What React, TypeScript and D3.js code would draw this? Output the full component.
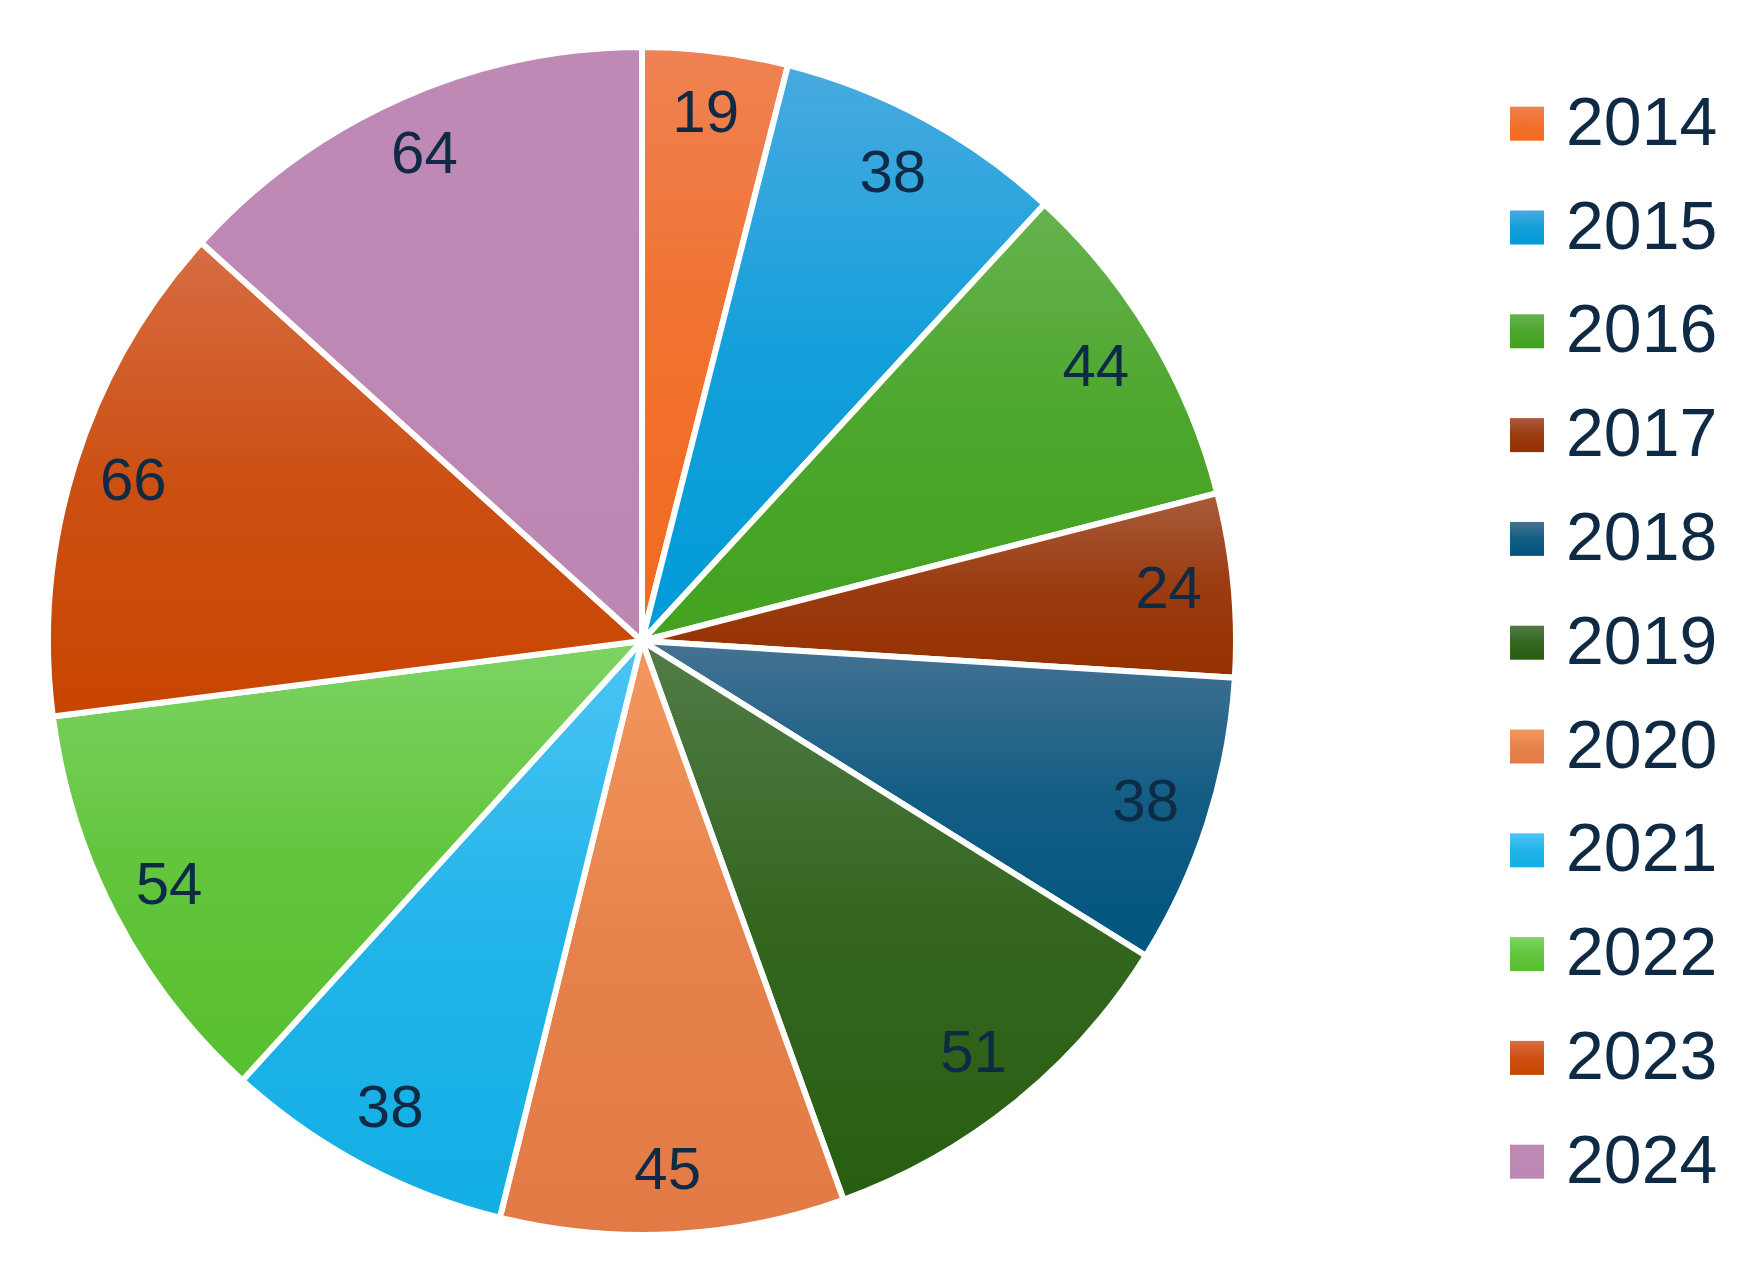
import React from "react";
import * as d3 from "d3";

const years = ["2014", "2015", "2016", "2017", "2018", "2019", "2020", "2021", "2022", "2023", "2024"];
const values = [19, 38, 44, 24, 38, 51, 45, 38, 54, 66, 64];

const topColors = ["#ef8253", "#48aae0", "#67b24e", "#a85c3c", "#457292", "#527c47", "#f3975f", "#4cc4f5", "#7dd364", "#d86c44", "#be8ab5"];
const bottomColors = ["#f26a1f", "#009bd8", "#42a21f", "#963000", "#00557f", "#285e11", "#e27a45", "#12aee4", "#58c02e", "#c84500", "#bc87b2"];

const W = 1745;
const H = 1276;
const CX = 642;
const CY = 641;
const R = 594;
const LABEL_R = 531;
const LABEL_DX = -2;
const LABEL_DY = -3;
const TEXT_COLOR = "#0f2a45";
const FONT = "'Liberation Sans', Arial, sans-serif";

export default function App() {
  const data = years.map((y, i) => ({ year: y, value: values[i], i }));
  const pie = d3.pie<any>().value((d) => d.value).sort(null);
  const arcs = pie(data);
  const arc = d3.arc<any>().innerRadius(0).outerRadius(R);
  const labelArc = d3.arc<any>().innerRadius(LABEL_R).outerRadius(LABEL_R);

  const legendX = 1510;
  const legendY0 = 123.7;
  const legendStep = 103.8;
  const sq = 34;

  return (
    <svg
      width={W}
      height={H}
      style={{ position: "absolute", left: 0, top: 0, background: "#fff" }}
      fontFamily={FONT}
    >
      <defs>
        {years.map((y, i) => (
          <linearGradient key={y} id={`g${i}`} x1="0" y1="0" x2="0" y2="1">
            <stop offset="0" stopColor={topColors[i]} />
            <stop offset="0.5" stopColor={d3.interpolateRgb(topColors[i], bottomColors[i])(0.72)} />
            <stop offset="1" stopColor={bottomColors[i]} />
          </linearGradient>
        ))}
      </defs>
      <g transform={`translate(${CX},${CY})`}>
        {arcs.map((a) => (
          <path
            key={a.data.year}
            d={arc(a) as string}
            fill={`url(#g${a.data.i})`}
            stroke="#fff"
            strokeWidth={6}
            strokeLinejoin="round"
          />
        ))}
        {arcs.map((a) => {
          const [x, y] = labelArc.centroid(a);
          return (
            <text
              key={"l" + a.data.year}
              x={x + LABEL_DX}
              y={y + LABEL_DY}
              textAnchor="middle"
              dominantBaseline="central"
              fontSize={60}
              fill={TEXT_COLOR}
            >
              {a.data.value}
            </text>
          );
        })}
      </g>
      <g>
        {years.map((y, i) => {
          const cy = legendY0 + i * legendStep;
          return (
            <g key={"lg" + y}>
              <rect x={legendX} y={cy - sq / 2} width={sq} height={sq} fill={`url(#g${i})`} />
              <text
                x={legendX + 56}
                y={cy - 3}
                dominantBaseline="central"
                fontSize={68}
                fill={TEXT_COLOR}
              >
                {y}
              </text>
            </g>
          );
        })}
      </g>
    </svg>
  );
}
